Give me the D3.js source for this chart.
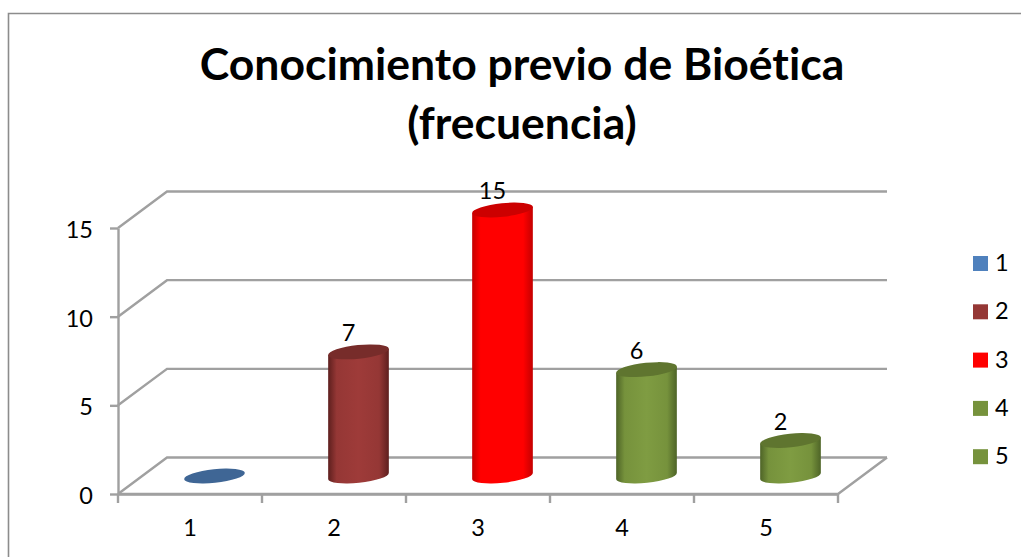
<!DOCTYPE html>
<html>
<head>
<meta charset="utf-8">
<script src="https://cdnjs.cloudflare.com/ajax/libs/d3/7.8.5/d3.min.js"></script>
<style>
	html, body { margin: 0; padding: 0; background: #fff; }
	svg { display: block; }
	text { font-family: Lato, "Open Sans", sans-serif; fill: #000; font-variant-ligatures: none; }
</style>
</head>
<body>
<div id="chart"></div>
<script>
var categories = ['1', '2', '3', '4', '5'];
var values = [0, 7, 15, 6, 2];
var yTicks = [0, 5, 10, 15];
var titleLines = ['Conocimiento previo de Bioética', '(frecuencia)'];

var colors = ['#4f81bd', '#953735', '#ff0000', '#76923c', '#76923c'];
var topColors = ['#3f6695', '#772c2a', '#cc0000', '#5f752f', '#5f752f'];
var edgeColors = ['#2f4d70', '#5e1f1e', '#c40000', '#4e6427', '#4e6427'];
var centerColors = ['#4f81bd', '#9e3b39', '#ff0000', '#7f9c42', '#7f9c42'];

var width = 1021, height = 557;
var gridColor = '#a0a0a0';
var labelSize = '23.5px';

// perspective offset of the back wall
var depthX = 49, depthY = -36.5;

var svg = d3.select('#chart').append('svg')
		.attr('width', width)
		.attr('height', height);

var x = d3.scaleBand().domain(categories).range([118, 838]);
var y = d3.scaleLinear().domain([0, 15]).range([494, 228]);

// outer frame of the chart
svg.append('path')
	.attr('d', 'M8.5,' + height + 'V13.5H' + width)
	.attr('fill', 'none')
	.attr('stroke', '#8c8c8c')
	.attr('stroke-width', 1.6);

titleLines.forEach(function(t, i) {
	svg.append('text')
		.attr('x', 522)
		.attr('y', 80 + i * 59)
		.attr('text-anchor', 'middle')
		.style('font-size', '44.5px')
		.style('font-weight', 'bold')
		.text(t);
});

// walls
var g = svg.append('g')
		.attr('stroke', gridColor)
		.attr('stroke-width', 2.4)
		.attr('fill', 'none');

yTicks.forEach(function(d) {
	g.append('path')
		.attr('d', d3.line()([
			[x.range()[0], y(d)],
			[x.range()[0] + depthX, y(d) + depthY],
			[x.range()[1] + depthX, y(d) + depthY]
		]));
});

// floor, right side
g.append('path')
	.attr('d', d3.line()([
		[x.range()[0], y(0)],
		[x.range()[1], y(0)],
		[x.range()[1] + depthX, y(0) + depthY]
	]));

// axes
var yAxis = svg.append('g')
		.attr('transform', 'translate(' + x.range()[0] + ',0)')
		.call(d3.axisLeft(y).tickValues(yTicks).tickSize(8).tickPadding(17).tickSizeOuter(0));

var xAxis = svg.append('g')
		.attr('transform', 'translate(0,' + y(0) + ')')
		.call(d3.axisBottom(x).tickSize(0).tickPadding(25));

[yAxis, xAxis].forEach(function(a) {
	a.selectAll('path, line').attr('stroke', gridColor).attr('stroke-width', 2.4);
	a.selectAll('text').style('font-size', labelSize).style('font-family', null);
});
yAxis.selectAll('text').attr('dy', '0.41em');

// x ticks sit between the categories
svg.append('g').selectAll('line')
	.data(categories.concat(['end']))
	.enter().append('line')
	.attr('x1', function(d, i) { return x.range()[0] + i * x.step(); })
	.attr('x2', function(d, i) { return x.range()[0] + i * x.step(); })
	.attr('y1', y(0))
	.attr('y2', y(0) + 9)
	.attr('stroke', gridColor)
	.attr('stroke-width', 2.4);

// cylinders
var rx = 30.5, ry = 6.8, tilt = -6;
var dx = rx * Math.cos(tilt * Math.PI / 180);
var dy = rx * Math.sin(tilt * Math.PI / 180);
var floorY = -18;

var defs = svg.append('defs');

categories.forEach(function(c, i) {
	var grad = defs.append('linearGradient')
			.attr('id', 'cyl' + i);
	grad.append('stop').attr('offset', '0%').attr('stop-color', edgeColors[i]);
	grad.append('stop').attr('offset', '14%').attr('stop-color', colors[i]);
	grad.append('stop').attr('offset', '50%').attr('stop-color', centerColors[i]);
	grad.append('stop').attr('offset', '84%').attr('stop-color', colors[i]);
	grad.append('stop').attr('offset', '100%').attr('stop-color', edgeColors[i]);
});

var bars = svg.append('g').selectAll('g')
		.data(d3.range(values.length))
		.enter().append('g');

var cx = function(i) { return x(categories[i]) + x.bandwidth() / 2 + depthX / 2; };
var topY = function(i) { return y(values[i]) + floorY; };
var notZero = function(i) { return values[i] > 0; };

bars.filter(notZero).append('path')
	.attr('fill', function(i) { return 'url(#cyl' + i + ')'; })
	.attr('d', function(i) {
		var bottom = y(0) + floorY;
		return 'M' + (cx(i) - dx) + ',' + (topY(i) - dy) +
			'L' + (cx(i) - dx) + ',' + (bottom - dy) +
			'A' + rx + ',' + ry + ' ' + tilt + ' 0 0 ' + (cx(i) + dx) + ',' + (bottom + dy) +
			'L' + (cx(i) + dx) + ',' + (topY(i) + dy) + 'Z';
	});

bars.append('ellipse')
	.attr('rx', rx)
	.attr('ry', ry)
	.attr('fill', function(i) { return topColors[i]; })
	.attr('transform', function(i) {
		return 'translate(' + cx(i) + ',' + topY(i) + ') rotate(' + tilt + ')';
	});

// value labels, the zero one is not shown
bars.filter(notZero).append('text')
	.attr('x', function(i) { return cx(i) - 10; })
	.attr('y', function(i) { return topY(i) - 11; })
	.attr('text-anchor', 'middle')
	.style('font-size', labelSize)
	.text(function(i) { return values[i]; });

// legend
var legend = svg.append('g').selectAll('g')
		.data(categories)
		.enter().append('g')
		.attr('transform', function(d, i) { return 'translate(973,' + (256 + i * 48.3) + ')'; });

legend.append('rect')
	.attr('width', 15)
	.attr('height', 15)
	.attr('fill', function(d, i) { return colors[i]; });

legend.append('text')
	.attr('x', 22)
	.attr('y', 15)
	.style('font-size', labelSize)
	.text(function(d) { return d; });
</script>
</body>
</html>
